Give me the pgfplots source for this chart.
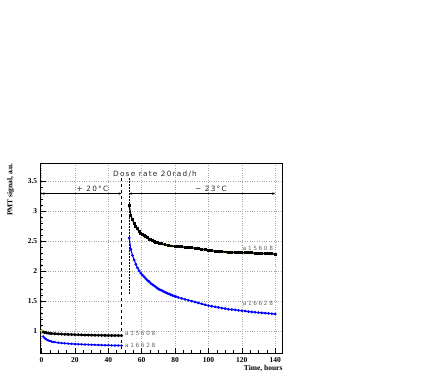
\documentclass[border=0pt]{standalone}
\usepackage{fontspec}
\setmainfont{Liberation Serif}
\newfontfamily\annfont[LetterSpace=17]{DejaVu Sans}
\newfontfamily\lblfont[LetterSpace=28]{DejaVu Sans}
\usepackage{pgfplots}
\pgfplotsset{compat=1.18}
\usetikzlibrary{arrows.meta}
\definecolor{yel}{RGB}{210,210,40}
\begin{document}
\begin{tikzpicture}
\useasboundingbox (0,0) rectangle (436pt,382pt);
\begin{axis}[
  at={(40.7pt,29pt)}, anchor=south west,
  scale only axis, width=242pt, height=190pt,
  xmin=-0.5, xmax=144.5, ymin=0.63, ymax=3.8,
  xtick={0,20,...,140}, ytick={1,1.5,2,2.5,3,3.5},
  yticklabels={1,1.5,2,2.5,3,3.5},
  minor x tick num=3, minor y tick num=4,
  xtick pos=left, ytick pos=left,
  major tick length=5pt, minor tick length=2.5pt,
  tick style={black, line width=0.5pt},
  grid=major, major grid style={dotted, gray!70, line width=0.5pt},
  axis line style={line width=0.7pt},
  /pgf/number format/assume math mode=true,
  ticklabel style={font=\bfseries\fontsize{7.5}{8}\selectfont},
  xticklabel style={yshift=-1pt},
  clip=false,
]
% left part a15608
\addplot[draw=black, line width=1.8pt, mark=*, mark size=0.4pt, mark options={black}] coordinates {
(0,1.00) (1,0.98) (2,0.972) (3,0.966) (4,0.962) (5,0.958) (6,0.955) (8,0.951) (10,0.948) (12,0.945) (14,0.942) (16,0.940) (18,0.938) (20,0.936) (22,0.934) (24,0.932) (26,0.930) (28,0.929) (30,0.928) (32,0.927) (34,0.926) (36,0.925) (38,0.924) (40,0.923) (42,0.922) (44,0.921) (46,0.921) (48,0.920)};
\addplot[only marks, mark=*, mark size=1.1pt, color=yel] coordinates {(0,1.0)};
% left part a16628
\addplot[draw=blue, line width=1.2pt, mark=*, mark size=0.5pt, mark options={blue}] coordinates {
(1,0.905) (2,0.875) (3,0.855) (4,0.84) (5,0.83) (6,0.822) (7,0.815) (8,0.81) (10,0.802) (12,0.796) (14,0.791) (16,0.787) (18,0.783) (20,0.780) (22,0.777) (24,0.774) (26,0.772) (28,0.770) (30,0.768) (32,0.766) (34,0.764) (36,0.762) (38,0.760) (40,0.758) (42,0.757) (44,0.756) (46,0.755) (48,0.754)};
% right part a15608: yellow underlay
\addplot[draw=yel, line width=2.4pt] coordinates {
(55.5,2.79) (56.5,2.74) (57.5,2.70) (58.5,2.66) (59.5,2.63) (60.5,2.61) (61.5,2.59) (62.5,2.57) (63.5,2.55) (64.5,2.53) (65.5,2.52) (66.5,2.50) (67.5,2.49) (68.5,2.48) (69.5,2.47) (70.5,2.46) (72,2.45) (74,2.435) (76,2.425) (78,2.415) (80,2.41) (82,2.405) (84,2.40) (86,2.395) (88,2.39) (90,2.385) (92,2.38) (94,2.37) (96,2.36) (98,2.35) (100,2.34) (102,2.335) (104,2.33) (106,2.325) (108,2.32) (110,2.315) (112,2.31) (114,2.31) (116,2.31) (118,2.305) (120,2.305) (122,2.30) (124,2.30) (126,2.30) (128,2.295) (130,2.29) (132,2.29) (134,2.29) (136,2.285) (138,2.285) (140,2.28)};
\addplot[draw=black, line width=1.3pt, mark=square*, mark size=0.8pt, mark options={black}] coordinates {
(52.5,3.09) (53.5,2.93) (54.5,2.85) (55.5,2.79) (56.5,2.74) (57.5,2.70) (58.5,2.66) (59.5,2.63) (60.5,2.61) (61.5,2.59) (62.5,2.57) (63.5,2.55) (64.5,2.53) (65.5,2.52) (66.5,2.50) (67.5,2.49) (68.5,2.48) (69.5,2.47) (70.5,2.46) (72,2.45) (74,2.435) (76,2.425) (78,2.415) (80,2.41) (82,2.405) (84,2.40) (86,2.395) (88,2.39) (90,2.385) (92,2.38) (94,2.37) (96,2.36) (98,2.35) (100,2.34) (102,2.335) (104,2.33) (106,2.325) (108,2.32) (110,2.315) (112,2.31) (114,2.31) (116,2.31) (118,2.305) (120,2.305) (122,2.30) (124,2.30) (126,2.30) (128,2.295) (130,2.29) (132,2.29) (134,2.29) (136,2.285) (138,2.285) (140,2.28)};
% right part a16628
\addplot[draw=blue, line width=1.1pt, mark=*, mark size=0.75pt, mark options={blue}] coordinates {
(52.5,2.55) (53.5,2.36) (54.5,2.26) (55.5,2.18) (56.5,2.11) (57.5,2.05) (58.5,2.00) (59.5,1.96) (60.5,1.93) (61.5,1.90) (62.5,1.87) (63.5,1.84) (64.5,1.82) (65.5,1.79) (66.5,1.77) (67.5,1.75) (68.5,1.73) (69.5,1.71) (70.5,1.69) (71.5,1.68) (72.5,1.665) (73.5,1.65) (74.5,1.64) (75.5,1.625) (76.5,1.615) (77.5,1.60) (78.5,1.59) (79.5,1.58) (80.5,1.57) (82,1.555) (84,1.54) (86,1.525) (88,1.51) (90,1.495) (92,1.48) (94,1.465) (96,1.45) (98,1.435) (100,1.42) (102,1.41) (104,1.40) (106,1.39) (108,1.38) (110,1.37) (112,1.36) (114,1.355) (116,1.35) (118,1.34) (120,1.335) (122,1.33) (124,1.32) (126,1.315) (128,1.31) (130,1.305) (132,1.30) (134,1.295) (136,1.29) (138,1.285) (140,1.28)};
% annotations
\draw[dashed, black, line width=0.5pt] (axis cs:48,3.55) -- (axis cs:48,0.66);
\draw[densely dotted, black, line width=0.5pt] (axis cs:52.3,3.55) -- (axis cs:52.3,1.6);
\draw[{Stealth[length=3pt,width=2.5pt]}-{Stealth[length=3pt,width=2.5pt]}, line width=0.5pt] (axis cs:0,3.29) -- (axis cs:48,3.29);
\draw[{Stealth[length=3pt,width=2.5pt]}-{Stealth[length=3pt,width=2.5pt]}, line width=0.5pt] (axis cs:52.3,3.29) -- (axis cs:140,3.29);
\node[font=\annfont\fontsize{7.3}{8}\selectfont, text=black!85, anchor=base] at (axis cs:68,3.58) {Dose rate 20rad/h};
\node[font=\annfont\fontsize{7.3}{8}\selectfont, text=black!85, anchor=base] at (axis cs:30.5,3.33) {+ 20°C};
\node[font=\annfont\fontsize{7.3}{8}\selectfont, text=black!85, anchor=base] at (axis cs:101.5,3.33) {− 23°C};
\node[font=\lblfont\fontsize{5.8}{6}\selectfont, text=black!60, anchor=west, inner sep=0pt] at (axis cs:120.5,2.37) {a15608};
\node[font=\lblfont\fontsize{5.8}{6}\selectfont, text=black!60, anchor=west, inner sep=0pt] at (axis cs:120.5,1.46) {a16628};
\node[font=\lblfont\fontsize{5.8}{6}\selectfont, text=black!60, anchor=west, inner sep=0pt] at (axis cs:50,0.96) {a15608};
\node[font=\lblfont\fontsize{5.8}{6}\selectfont, text=black!60, anchor=west, inner sep=0pt] at (axis cs:50,0.75) {a16628};
\node[font=\bfseries\fontsize{7.5}{8}\selectfont, rotate=90, anchor=east, inner sep=0pt] at ([xshift=-30pt]axis description cs:0,1) {PMT signal, a.u.};
\node[font=\bfseries\fontsize{7.5}{8}\selectfont, anchor=north east, inner sep=0pt] at ([yshift=-12pt]axis description cs:1,0) {Time, hours};
\end{axis}
\end{tikzpicture}
\end{document}
